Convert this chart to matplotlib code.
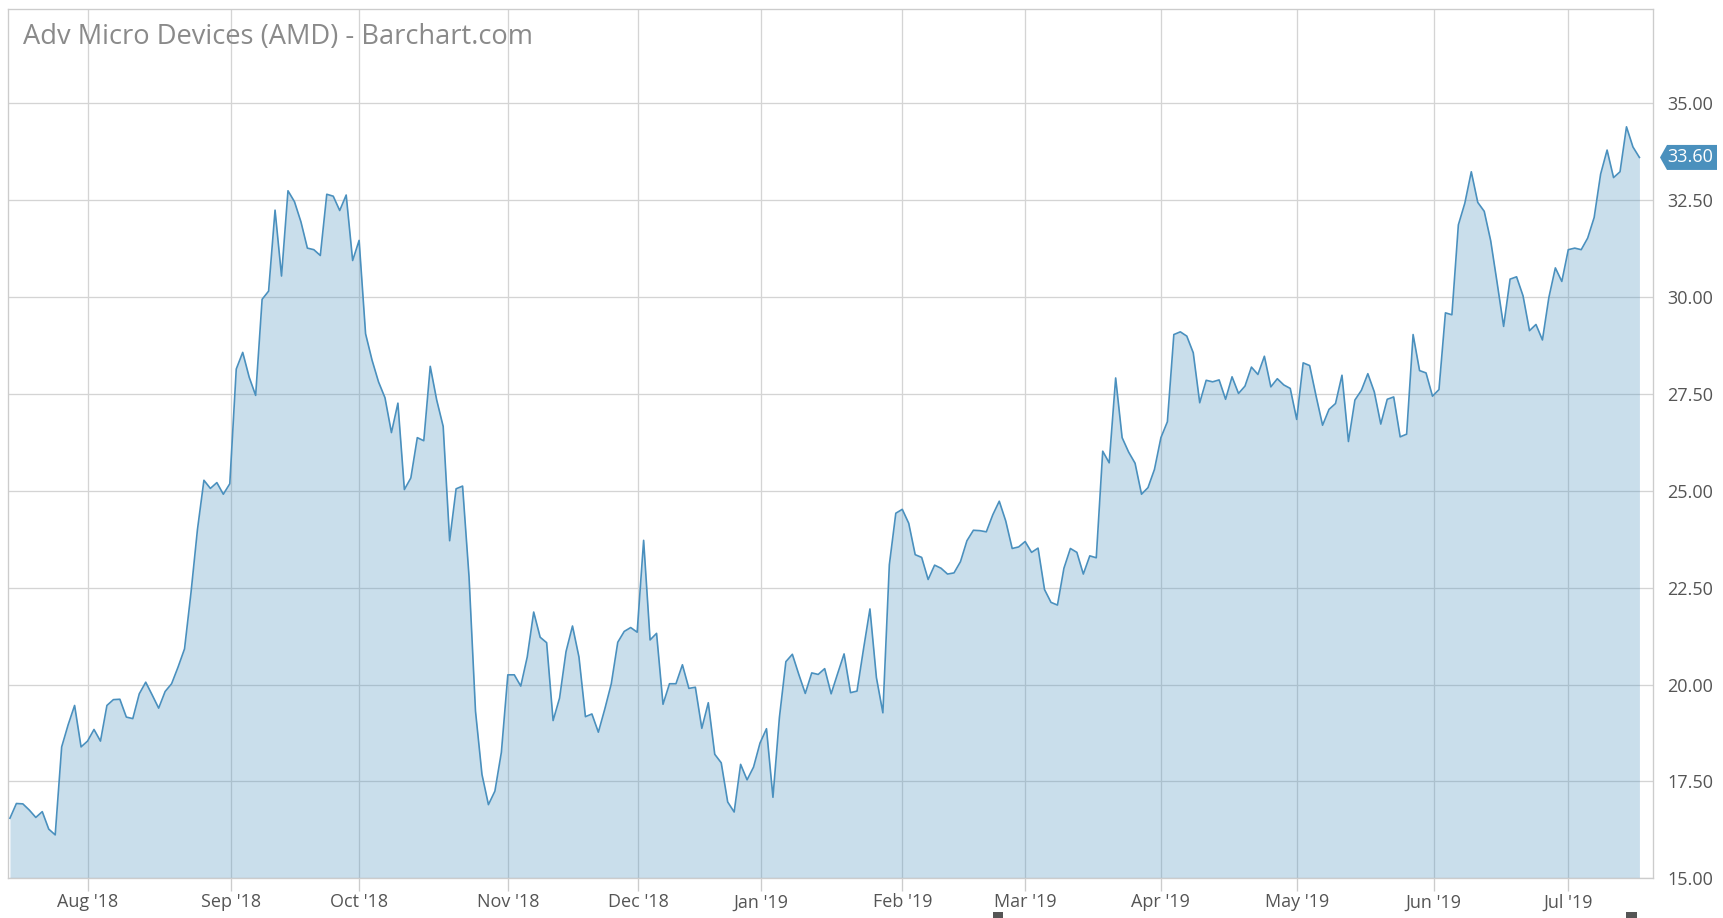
#!/usr/bin/env python3
import numpy as np
import pandas as pd
import matplotlib
matplotlib.use('Agg')
import matplotlib.pyplot as plt
from matplotlib.patches import Polygon, Rectangle
from matplotlib.transforms import IdentityTransform
from matplotlib.ticker import FormatStrFormatter

plt.rcParams['font.family'] = ['Open Sans', 'DejaVu Sans']

TITLE = "Adv Micro Devices (AMD) - Barchart.com"

# daily closes
jul18 = [16.55, 16.93, 16.92, 16.76, 16.57, 16.72, 16.27, 16.12, 18.39, 18.96, 19.46, 18.39]
aug18 = [18.54, 18.84, 18.54, 19.46, 19.61, 19.62, 19.16, 19.12, 19.76, 20.06, 19.73, 19.39,
         19.82, 20.02, 20.45, 20.92, 22.37, 24.00, 25.27, 25.06, 25.21, 24.91, 25.18]
sep18 = [28.14, 28.57, 27.93, 27.46, 29.94, 30.15, 32.24, 30.54, 32.74, 32.46, 31.94, 31.26,
         31.22, 31.07, 32.65, 32.60, 32.23, 32.63, 30.94]
oct18 = [31.46, 29.05, 28.37, 27.81, 27.40, 26.50, 27.26, 25.03, 25.33, 26.37, 26.29, 28.21,
         27.34, 26.66, 23.71, 25.05, 25.12, 22.78, 19.31, 17.68, 16.90, 17.25, 18.25]
nov18 = [20.25, 20.25, 19.96, 20.71, 21.87, 21.22, 21.08, 19.07, 19.65, 20.85, 21.51, 20.71,
         19.17, 19.24, 18.77, 19.37, 20.02, 21.09, 21.37, 21.47, 21.35]
dec18 = [23.72, 21.15, 21.32, 19.49, 20.02, 20.02, 20.51, 19.90, 19.93, 18.87, 19.53, 18.20,
         17.98, 16.97, 16.71, 17.94, 17.54, 17.87, 18.49]
jan19 = [18.86, 17.09, 19.15, 20.59, 20.78, 20.26, 19.77, 20.30, 20.26, 20.41, 19.76, 20.28,
         20.79, 19.79, 19.83, 20.91, 21.95, 20.18, 19.27, 23.09, 24.42]
feb19 = [24.52, 24.16, 23.35, 23.28, 22.71, 23.08, 23.00, 22.85, 22.88, 23.17, 23.71, 23.98,
         23.97, 23.94, 24.38, 24.73, 24.22, 23.51, 23.55]
mar19 = [23.69, 23.41, 23.52, 22.45, 22.12, 22.05, 23.00, 23.51, 23.41, 22.85, 23.32, 23.27,
         26.02, 25.72, 27.91, 26.37, 26.00, 25.71, 24.91, 25.08, 25.55]
apr19 = [26.37, 26.78, 29.03, 29.10, 28.99, 28.56, 27.27, 27.85, 27.81, 27.86, 27.36, 27.94,
         27.51, 27.70, 28.19, 28.00, 28.47, 27.68, 27.89, 27.73, 27.64]
may19 = [26.84, 28.30, 28.23, 27.44, 26.69, 27.10, 27.25, 27.98, 26.27, 27.34, 27.59, 28.02,
         27.55, 26.72, 27.36, 27.42, 26.39, 26.46, 29.03, 28.10, 28.04, 27.44]
jun19 = [27.61, 29.59, 29.54, 31.86, 32.42, 33.23, 32.44, 32.21, 31.45, 30.36, 29.24, 30.46,
         30.52, 30.03, 29.13, 29.29, 28.89, 29.99, 30.75, 30.40]
jul19 = [31.22, 31.26, 31.22, 31.52, 32.05, 33.17, 33.79, 33.08, 33.23, 34.39, 33.87, 33.60]

START, END = '2018-07-16', '2019-07-17'
HOLIDAYS = ['2018-09-03', '2018-11-22', '2018-12-05', '2018-12-25', '2019-01-01',
            '2019-01-21', '2019-02-18', '2019-04-19', '2019-05-27', '2019-07-04']
Y_TICKS = [15.0, 17.5, 20.0, 22.5, 25.0, 27.5, 30.0, 32.5, 35.0]

W, H = 1724, 918


def trading_days():
    days = pd.bdate_range(START, END)
    return days[~days.isin(pd.to_datetime(HOLIDAYS))]


def month_ticks(dates):
    pos, labels = [], []
    for m in pd.date_range('2018-08-01', '2019-07-01', freq='MS'):
        i = dates.searchsorted(m)
        # month line sits just after the last session when the 1st is no trading day
        pos.append(i if dates[i] == m else i - 0.8)
        labels.append(m.strftime("%b '%y"))
    return pos, labels


def main():
    close = np.array(jul18 + aug18 + sep18 + oct18 + nov18 + dec18 + jan19 + feb19
                     + mar19 + apr19 + may19 + jun19 + jul19)
    dates = trading_days()
    assert len(dates) == len(close), (len(dates), len(close))
    x = np.arange(len(close))

    fig = plt.figure(figsize=(W / 100, H / 100), dpi=100)
    ax = fig.add_axes([8 / W, 1 - 878.3 / H, (1653 - 8) / W, (878.3 - 9) / H])

    ax.fill_between(x, close, 15, color='#4e92c0', alpha=0.3, lw=0, zorder=2)
    ax.plot(x, close, color='#4a90be', lw=1.2, zorder=3)

    ax.set_xlim(-0.3, 254.1)
    ax.set_ylim(15, 37.43)

    pos, labels = month_ticks(dates)
    ax.set_xticks(pos, labels)
    ax.set_yticks(Y_TICKS)
    ax.yaxis.set_major_formatter(FormatStrFormatter('%.2f'))
    ax.yaxis.tick_right()
    ax.tick_params(axis='y', length=0, pad=10.5, labelsize=13, labelcolor='#555555')
    ax.tick_params(axis='x', length=9.4, width=0.95, color='#cccccc', pad=1.5,
                   labelsize=13, labelcolor='#555555')

    ax.grid(True, color='#d4d4d4', lw=0.95)
    ax.set_axisbelow(True)
    for s in ax.spines.values():
        s.set_color('#cccccc')
        s.set_linewidth(0.95)

    fig.text(23 / W, 1 - 37 / H, TITLE, fontsize=19.6, color='#8a8a8a',
             ha='left', va='center')

    # last price tag on the right axis
    yp = ax.transData.transform((0, close[-1]))[1]
    tag = Polygon([(1660, yp), (1667, yp + 12.5), (1717, yp + 12.5),
                   (1717, yp - 12.5), (1667, yp - 12.5)],
                  closed=True, facecolor='#4a90bd', edgecolor='none',
                  transform=IdentityTransform())
    fig.add_artist(tag)
    fig.text(1690 / W, yp / H, f'{close[-1]:.2f}', color='white', fontsize=13,
             ha='center', va='center')

    # little scroll handles under the axis
    for x0, w in [(993, 10), (1626, 11)]:
        fig.add_artist(Rectangle((x0, 0), w, 6, facecolor='#555555', edgecolor='none',
                                 transform=IdentityTransform()))

    fig.savefig('out.png', dpi=100)


if __name__ == '__main__':
    main()
